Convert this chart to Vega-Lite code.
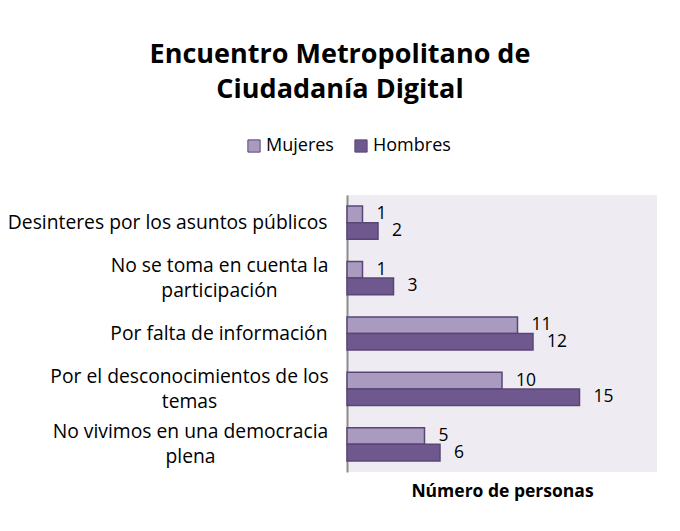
{
  "$schema": "https://vega.github.io/schema/vega-lite/v6.json",
  "width": 310,
  "height": 277,
  "autosize": {"type": "none"},
  "padding": {"left": 347, "top": 195, "right": 23, "bottom": 59},
  "background": "white",
  "title": {
    "text": ["Encuentro Metropolitano de", "Ciudadanía Digital"],
    "font": "Open Sans",
    "fontSize": 27,
    "fontWeight": "bold",
    "color": "black",
    "anchor": "middle",
    "frame": "group",
    "dx": -162,
    "lineHeight": 35,
    "offset": 33
  },
  "config": {
    "view": {"fill": "#EEECF2", "stroke": null},
    "font": "Open Sans"
  },
  "data": {
    "values": [
      {"causa": "Desinteres por los asuntos públicos", "sexo": "Mujeres", "personas": 1},
      {"causa": "Desinteres por los asuntos públicos", "sexo": "Hombres", "personas": 2},
      {"causa": "No se toma en cuenta la|participación", "sexo": "Mujeres", "personas": 1},
      {"causa": "No se toma en cuenta la|participación", "sexo": "Hombres", "personas": 3},
      {"causa": "Por falta de información", "sexo": "Mujeres", "personas": 11},
      {"causa": "Por falta de información", "sexo": "Hombres", "personas": 12},
      {"causa": "Por el desconocimientos de los|temas", "sexo": "Mujeres", "personas": 10},
      {"causa": "Por el desconocimientos de los|temas", "sexo": "Hombres", "personas": 15},
      {"causa": "No vivimos en una democracia|plena", "sexo": "Mujeres", "personas": 5},
      {"causa": "No vivimos en una democracia|plena", "sexo": "Hombres", "personas": 6}
    ]
  },
  "encoding": {
    "y": {
      "field": "causa",
      "type": "nominal",
      "sort": null,
      "scale": {"paddingInner": 0.4, "paddingOuter": 0.2},
      "axis": {
        "title": null,
        "ticks": false,
        "domainColor": "#8c8c8c",
        "domainWidth": 2,
        "labelExpr": "split(datum.label, '|')",
        "labelFont": "Open Sans",
        "labelFontSize": 19.3,
        "labelColor": "black",
        "labelLimit": 400,
        "labelLineHeight": 25,
        "labelAlign": {"condition": {"test": "indexof(datum.value, '|') >= 0", "value": "center"}, "value": "right"},
        "labelPadding": {
          "condition": [
            {"test": "datum.value == 'No se toma en cuenta la|participación'", "value": 128},
            {"test": "datum.value == 'Por el desconocimientos de los|temas'", "value": 158},
            {"test": "datum.value == 'No vivimos en una democracia|plena'", "value": 157}
          ],
          "value": 20
        },
        "labelOffset": {"condition": {"test": "indexof(datum.value, '|') >= 0", "value": -12}, "value": 0}
      }
    },
    "yOffset": {
      "field": "sexo",
      "type": "nominal",
      "scale": {"domain": ["Mujeres", "Hombres"], "paddingInner": 0, "paddingOuter": 0}
    },
    "x": {
      "field": "personas",
      "type": "quantitative",
      "scale": {"domain": [0, 20], "nice": false},
      "axis": {
        "title": "Número de personas",
        "titleFont": "Open Sans",
        "titleFontSize": 17.5,
        "titleFontWeight": "bold",
        "titleColor": "black",
        "titlePadding": 10,
        "labels": false,
        "ticks": false,
        "domain": false,
        "grid": false
      }
    }
  },
  "layer": [
    {
      "mark": {"type": "bar", "stroke": "#5A4577", "strokeWidth": 1.5},
      "encoding": {
        "color": {
          "field": "sexo",
          "type": "nominal",
          "scale": {"domain": ["Mujeres", "Hombres"], "range": ["#A99BC0", "#6F588E"]},
          "legend": {
            "title": null,
            "orient": "none",
            "legendX": -102,
            "legendY": -58,
            "direction": "horizontal",
            "symbolType": "square",
            "symbolSize": 150,
            "symbolStrokeColor": "#5A4577",
            "symbolStrokeWidth": 1,
            "labelFont": "Open Sans",
            "labelFontSize": 18,
            "labelColor": "black",
            "labelOffset": 3,
            "columnPadding": 18
          }
        }
      }
    },
    {
      "mark": {"type": "text", "align": "left", "baseline": "middle", "dx": 14, "font": "Open Sans", "fontSize": 17.5, "color": "black"},
      "encoding": {
        "text": {"field": "personas", "type": "quantitative"}
      }
    }
  ]
}
